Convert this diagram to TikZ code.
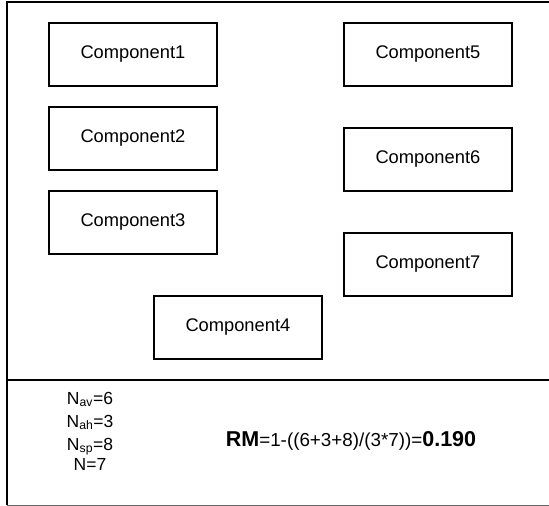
\documentclass[tikz,border=0pt]{standalone}
\usepackage{fontspec}
\setmainfont{Liberation Sans}
\begin{document}
\begin{tikzpicture}[x=1pt,y=-1pt,
  comp/.style={draw, line width=1.8pt, minimum width=168pt, minimum height=63pt,
    inner sep=0pt, anchor=north west, font=\fontsize{18.3}{21}\selectfont},
  count/.style={anchor=base, inner sep=0pt, font=\fontsize{17.5}{20}\selectfont},
  frame/.style={line width=2pt}]
\useasboundingbox (0,0) rectangle (549,506);

% outer frame and divider between the layout and the metric panel
\coordinate (tl) at (7,1.5);
\coordinate (tr) at (549,1.5);
\coordinate (bl) at (7,505);
\coordinate (br) at (549,505);
\coordinate (ml) at (7,380);
\coordinate (mr) at (549,380);
\draw[frame] (tr) -- (tl) -- (bl);
\draw[line width=1pt, black!60] (bl) -- (br);
\draw[line width=2.8pt] (ml) -- (mr);

% components
\node[comp] (c1) at (48,22)  {Component1};
\node[comp] (c2) at (48,106) {Component2};
\node[comp] (c3) at (48,190) {Component3};
\node[comp] (c4) at (153,295) {Component4};
\node[comp] (c5) at (343,22)  {Component5};
\node[comp] (c6) at (343,127) {Component6};
\node[comp] (c7) at (343,232) {Component7};

% counts
\node[count] (nav) at (90,404) {N\textsubscript{av}=6};
\node[count] (nah) at (90,427) {N\textsubscript{ah}=3};
\node[count] (nsp) at (90,450) {N\textsubscript{sp}=8};
\node[count] (n)   at (90,470) {N=7};

% metric
\node[anchor=base, inner sep=0pt, font=\fontsize{18.8}{22}\selectfont] (rm) at (351,446)
  {{\fontsize{21.5}{24}\selectfont\bfseries RM}=1-((6+3+8)/(3*7))={\fontsize{21.5}{24}\selectfont\bfseries 0.190}};
\end{tikzpicture}
\end{document}
